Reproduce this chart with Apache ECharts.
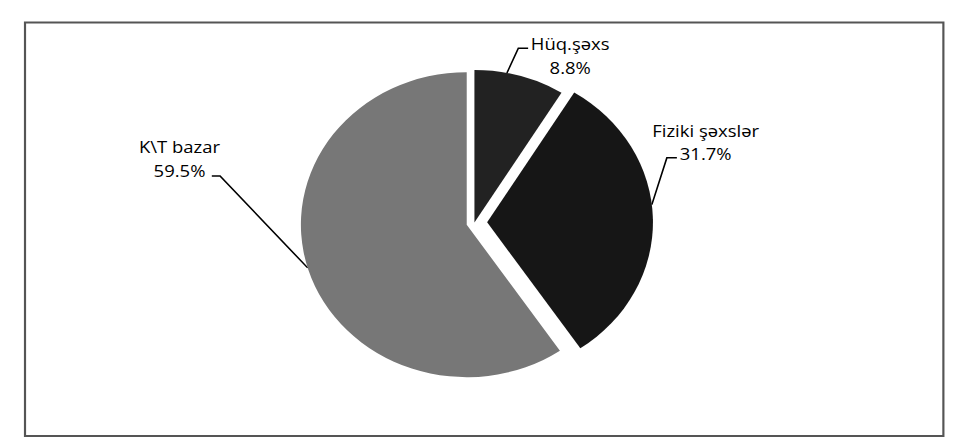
<!DOCTYPE html>
<html><head><meta charset="utf-8">
<script src="https://cdn.jsdelivr.net/npm/echarts@6/dist/echarts.min.js"></script>
<style>
html,body{margin:0;padding:0;background:#fff;overflow:hidden}
#wrap{width:971px;height:437px;overflow:hidden;position:relative;background:#fff}
#chart{width:893px;height:437px;transform:scaleX(1.08735);transform-origin:0 0}
</style></head><body><div id="wrap"><div id="chart"></div></div>
<script>
// ---- data ----
const categories = ['Hüq.şəxs', 'Fiziki şəxslər', 'K\\T bazar'];
const shares = [8.8, 31.7, 59.5];
const sliceColors = ['#222222', '#161616', '#777777'];

// ---- layout (chart px before the horizontal stretch) ----
const pieCenter = [436.3, 222.5];
const pieRadius = 152.5;
const explode = [0, 11.7, 7.4];
const labelCentres = [[524.4, 55.5], [649, 141.8], [165.1, 158]];
const leaderEnds = [[-38.7, -7.2, -9], [-26.5, 16, -9.2], [29.7, 18, 7.6]];
const leaderTouch = [0.357, 0.453, 0.503];

const total = shares.reduce((a, b) => a + b, 0);
let acc = 0;
const spans = shares.map(v => { const s = acc / total * 360; acc += v; return [s, acc / total * 360]; });
function pt(c, r, deg) { const a = deg * Math.PI / 180; return [c[0] + r * Math.sin(a), c[1] - r * Math.cos(a)]; }
const centres = spans.map((s, i) => pt(pieCenter, explode[i], (s[0] + s[1]) / 2));

const chart = echarts.init(document.getElementById('chart'), null, {renderer: 'svg'});

const series = categories.map((_, k) => ({
  type: 'pie',
  radius: pieRadius,
  center: centres[k],
  startAngle: 90,
  clockwise: true,
  avoidLabelOverlap: false,
  animation: false,
  silent: true,
  emphasis: {disabled: true},
  label: {
    show: true,
    position: 'outside',
    formatter: p => p.name + '\n' + Number(p.value).toFixed(1) + '%',
    fontFamily: 'Open Sans',
    fontSize: 17,
    lineHeight: 24,
    color: '#000'
  },
  labelLine: {show: true, lineStyle: {color: '#000', width: 1.5}},
  labelLayout: function (p) {
    if (p.dataIndex !== k) return {};
    const c = labelCentres[k];
    const e = leaderEnds[k];
    const end = [c[0] + e[0], c[1] + e[1]];
    const bend = [end[0] + e[2], end[1]];
    const sp = spans[k];
    const touch = pt(centres[k], pieRadius, sp[0] + leaderTouch[k] * (sp[1] - sp[0]));
    return {x: c[0], y: c[1], align: 'center', verticalAlign: 'middle', labelLinePoints: [touch, bend, end]};
  },
  data: categories.map((name, i) => ({
    name: name,
    value: shares[i],
    itemStyle: {color: i === k ? sliceColors[i] : 'rgba(0,0,0,0)', borderWidth: 0},
    label: {show: i === k},
    labelLine: {show: i === k}
  }))
}));

chart.setOption({
  backgroundColor: '#fff',
  animation: false,
  graphic: [{
    type: 'rect', silent: true,
    shape: {x: 23, y: 22.5, width: 844.6, height: 413.5},
    style: {fill: 'none', stroke: '#555', lineWidth: 2}
  }],
  series: series
});
</script></body></html>
